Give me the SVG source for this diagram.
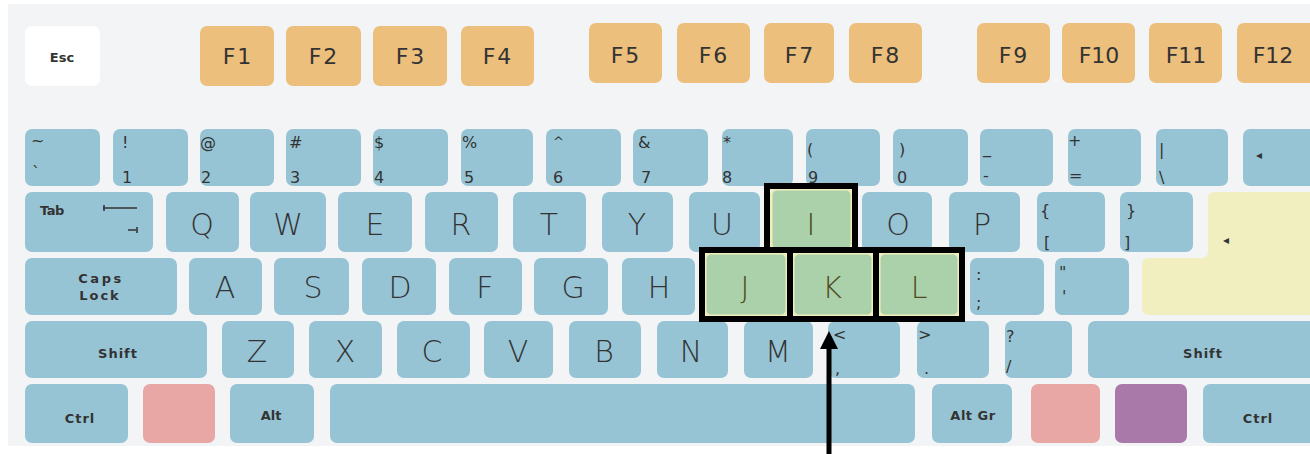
<svg xmlns="http://www.w3.org/2000/svg" width="1310" height="454" viewBox="0 0 1310 454">
<style>
.k{fill:#97c4d5}
.f{fill:#ecbf7c}
.g{fill:#abd1aa;stroke:#f0eebc;stroke-width:3}
.fr{fill:none;stroke:#000;stroke-width:6}
.t{font-family:"DejaVu Sans",sans-serif;fill:#333}
.L{font-size:30px;font-weight:200;text-anchor:middle}
.Lg{font-size:30px;font-weight:200;text-anchor:middle;fill:#4f4c22}
.F{font-size:22px;text-anchor:middle;letter-spacing:2px}
.s{font-size:16px}
.b{font-size:13px;font-weight:bold;text-anchor:middle;letter-spacing:1px}
</style>
<rect x="8" y="4" width="1302" height="442" fill="#f3f4f6"/>

<g id="frow">
<g id="k-esc"><rect x="25" y="26" width="75" height="60" rx="7" fill="#fff"/><text class="t b" x="62" y="62" style="letter-spacing:0">Esc</text></g>
<g id="k-f1"><rect class="f" x="200" y="26" width="74" height="60" rx="7"/><text class="t F" x="238" y="64">F1</text></g>
<g id="k-f2"><rect class="f" x="286" y="26" width="75" height="60" rx="7"/><text class="t F" x="324" y="64">F2</text></g>
<g id="k-f3"><rect class="f" x="373" y="26" width="74" height="60" rx="7"/><text class="t F" x="411" y="64">F3</text></g>
<g id="k-f4"><rect class="f" x="461" y="26" width="73" height="60" rx="7"/><text class="t F" x="498" y="64">F4</text></g>
<g id="k-f5"><rect class="f" x="589" y="23" width="73" height="60" rx="7"/><text class="t F" x="626" y="63">F5</text></g>
<g id="k-f6"><rect class="f" x="677" y="23" width="73" height="60" rx="7"/><text class="t F" x="714" y="63">F6</text></g>
<g id="k-f7"><rect class="f" x="764" y="23" width="70" height="60" rx="7"/><text class="t F" x="800" y="63">F7</text></g>
<g id="k-f8"><rect class="f" x="849" y="23" width="73" height="60" rx="7"/><text class="t F" x="886" y="63">F8</text></g>
<g id="k-f9"><rect class="f" x="977" y="23" width="73" height="60" rx="7"/><text class="t F" x="1014" y="63">F9</text></g>
<g id="k-f10"><rect class="f" x="1062" y="23" width="73" height="60" rx="7"/><text class="t F" x="1099" y="63" style="letter-spacing:0">F10</text></g>
<g id="k-f11"><rect class="f" x="1149" y="23" width="73" height="60" rx="7"/><text class="t F" x="1186" y="63" style="letter-spacing:0">F11</text></g>
<g id="k-f12"><rect class="f" x="1237" y="23" width="80" height="60" rx="7"/><text class="t F" x="1273" y="63" style="letter-spacing:0">F12</text></g>
</g>

<g id="numrow">
<g id="k-tilde"><rect class="k" x="25" y="129" width="75" height="57" rx="7"/><text class="t s" x="31" y="146">~</text><text class="t s" x="32" y="178">`</text></g>
<g id="k-1"><rect class="k" x="113" y="129" width="75" height="57" rx="7"/><text class="t s" x="122" y="148">!</text><text class="t s" x="122" y="183">1</text></g>
<g id="k-2"><rect class="k" x="200" y="129" width="74" height="57" rx="7"/><text class="t s" x="200" y="148">@</text><text class="t s" x="201" y="183">2</text></g>
<g id="k-3"><rect class="k" x="286" y="129" width="75" height="57" rx="7"/><text class="t s" x="289" y="148">#</text><text class="t s" x="290" y="183">3</text></g>
<g id="k-4"><rect class="k" x="373" y="129" width="75" height="57" rx="7"/><text class="t s" x="374" y="148">$</text><text class="t s" x="374" y="183">4</text></g>
<g id="k-5"><rect class="k" x="461" y="129" width="72" height="57" rx="7"/><text class="t s" x="462" y="148">%</text><text class="t s" x="464" y="183">5</text></g>
<g id="k-6"><rect class="k" x="546" y="129" width="75" height="57" rx="7"/><text class="t s" x="553" y="146" style="font-size:13px">^</text><text class="t s" x="553" y="183">6</text></g>
<g id="k-7"><rect class="k" x="633" y="129" width="75" height="57" rx="7"/><text class="t s" x="638" y="148">&amp;</text><text class="t s" x="641" y="183">7</text></g>
<g id="k-8"><rect class="k" x="722" y="129" width="71" height="57" rx="7"/><text class="t s" x="723" y="148">*</text><text class="t s" x="722" y="183">8</text></g>
<g id="k-9"><rect class="k" x="806" y="129" width="74" height="57" rx="7"/><text class="t s" x="807" y="155">(</text><text class="t s" x="808" y="183">9</text></g>
<g id="k-0"><rect class="k" x="893" y="129" width="75" height="57" rx="7"/><text class="t s" x="899" y="155">)</text><text class="t s" x="897" y="183">0</text></g>
<g id="k-minus"><rect class="k" x="980" y="129" width="73" height="57" rx="7"/><text class="t s" x="983" y="153">_</text><text class="t s" x="983" y="181">-</text></g>
<g id="k-equal"><rect class="k" x="1068" y="129" width="73" height="57" rx="7"/><text class="t s" x="1068" y="146">+</text><text class="t s" x="1069" y="181">=</text></g>
<g id="k-backslash"><rect class="k" x="1156" y="129" width="72" height="57" rx="7"/><text class="t s" x="1159" y="155">|</text><text class="t s" x="1159" y="183">\</text></g>
<g id="k-back"><rect class="k" x="1243" y="129" width="75" height="57" rx="7"/><text class="t" x="1256" y="159" style="font-size:12px">◂</text></g>
</g>

<g id="qrow">
<g id="k-tab"><rect class="k" x="25" y="192" width="128" height="60" rx="7"/><text class="t b" x="52" y="215" style="letter-spacing:-0.5px">Tab</text>
<path d="M103 208H137M104 205V211M128 230H136M137 227V233" stroke="#333" stroke-width="1.6" fill="none"/></g>
<g id="k-q"><rect class="k" x="166" y="192" width="73" height="60" rx="7"/><text class="t L" x="202" y="235">Q</text></g>
<g id="k-w"><rect class="k" x="250" y="192" width="76" height="60" rx="7"/><text class="t L" x="288" y="235">W</text></g>
<g id="k-e"><rect class="k" x="338" y="192" width="74" height="60" rx="7"/><text class="t L" x="375" y="235">E</text></g>
<g id="k-r"><rect class="k" x="425" y="192" width="73" height="60" rx="7"/><text class="t L" x="461" y="235">R</text></g>
<g id="k-t"><rect class="k" x="513" y="192" width="73" height="60" rx="7"/><text class="t L" x="549" y="235">T</text></g>
<g id="k-y"><rect class="k" x="602" y="192" width="71" height="60" rx="7"/><text class="t L" x="637" y="235">Y</text></g>
<g id="k-u"><rect class="k" x="689" y="192" width="71" height="60" rx="7"/><text class="t L" x="722" y="235">U</text></g>
<g id="k-i"><rect class="g" x="771" y="189" width="81" height="61" rx="6"/><text class="t Lg" x="811" y="235">I</text></g>
<g id="k-o"><rect class="k" x="862" y="192" width="70" height="60" rx="7"/><text class="t L" x="898" y="235">O</text></g>
<g id="k-p"><rect class="k" x="949" y="192" width="71" height="60" rx="7"/><text class="t L" x="982" y="235">P</text></g>
<g id="k-lbrack"><rect class="k" x="1037" y="192" width="68" height="60" rx="7"/><text class="t s" x="1040" y="216">{</text><text class="t s" x="1044" y="248">[</text></g>
<g id="k-rbrack"><rect class="k" x="1120" y="192" width="73" height="60" rx="7"/><text class="t s" x="1126" y="216">}</text><text class="t s" x="1124" y="248">]</text></g>
<g id="k-enter"><path d="M1215 192H1318V315H1149Q1142 315 1142 308V265Q1142 258 1149 258H1201Q1208 258 1208 251V199Q1208 192 1215 192Z" fill="#f1efbf"/><text class="t" x="1223" y="244" style="font-size:12px">◂</text></g>
</g>

<g id="arow">
<g id="k-caps"><rect class="k" x="25" y="258" width="152" height="57" rx="7"/><text class="t b" x="101" y="283" style="letter-spacing:2.5px">Caps</text><text class="t b" x="100" y="300" style="letter-spacing:2px">Lock</text></g>
<g id="k-a"><rect class="k" x="189" y="258" width="73" height="57" rx="7"/><text class="t L" x="225" y="298">A</text></g>
<g id="k-s"><rect class="k" x="274" y="258" width="75" height="57" rx="7"/><text class="t L" x="313" y="298">S</text></g>
<g id="k-d"><rect class="k" x="362" y="258" width="74" height="57" rx="7"/><text class="t L" x="400" y="298">D</text></g>
<g id="k-f"><rect class="k" x="449" y="258" width="73" height="57" rx="7"/><text class="t L" x="485" y="298">F</text></g>
<g id="k-g"><rect class="k" x="534" y="258" width="74" height="57" rx="7"/><text class="t L" x="573" y="298">G</text></g>
<g id="k-h"><rect class="k" x="622" y="258" width="73" height="57" rx="7"/><text class="t L" x="659" y="298">H</text></g>
<g id="k-j"><rect class="g" x="705" y="253" width="82" height="63" rx="6"/><text class="t Lg" x="745" y="298">J</text></g>
<g id="k-k"><rect class="g" x="793" y="253" width="80" height="63" rx="6"/><text class="t Lg" x="832" y="298">K</text></g>
<g id="k-l"><rect class="g" x="879" y="253" width="80" height="63" rx="6"/><text class="t Lg" x="919" y="298">L</text></g>
<g id="k-semi"><rect class="k" x="970" y="258" width="74" height="57" rx="7"/><text class="t s" x="976" y="280">:</text><text class="t s" x="976" y="308">;</text></g>
<g id="k-quote"><rect class="k" x="1055" y="258" width="74" height="57" rx="7"/><text class="t s" x="1059" y="278">"</text><text class="t s" x="1062" y="302">'</text></g>
</g>

<g id="zrow">
<g id="k-lshift"><rect class="k" x="25" y="321" width="182" height="57" rx="7"/><text class="t b" x="118" y="358">Shift</text></g>
<g id="k-z"><rect class="k" x="222" y="321" width="72" height="57" rx="7"/><text class="t L" x="257" y="362">Z</text></g>
<g id="k-x"><rect class="k" x="309" y="321" width="73" height="57" rx="7"/><text class="t L" x="345" y="362">X</text></g>
<g id="k-c"><rect class="k" x="397" y="321" width="73" height="57" rx="7"/><text class="t L" x="432" y="362">C</text></g>
<g id="k-v"><rect class="k" x="484" y="321" width="69" height="57" rx="7"/><text class="t L" x="518" y="362">V</text></g>
<g id="k-b"><rect class="k" x="569" y="321" width="72" height="57" rx="7"/><text class="t L" x="604" y="362">B</text></g>
<g id="k-n"><rect class="k" x="657" y="321" width="71" height="57" rx="7"/><text class="t L" x="691" y="362">N</text></g>
<g id="k-m"><rect class="k" x="744" y="321" width="69" height="57" rx="7"/><text class="t L" x="778" y="362">M</text></g>
<g id="k-comma"><rect class="k" x="828" y="321" width="72" height="57" rx="7"/><text class="t s" x="833" y="340">&lt;</text><text class="t s" x="835" y="374">,</text></g>
<g id="k-period"><rect class="k" x="917" y="321" width="72" height="57" rx="7"/><text class="t s" x="918" y="340">&gt;</text><text class="t s" x="924" y="374">.</text></g>
<g id="k-slash"><rect class="k" x="1005" y="321" width="67" height="57" rx="7"/><text class="t s" x="1006" y="342">?</text><text class="t s" x="1006" y="372">/</text></g>
<g id="k-rshift"><rect class="k" x="1088" y="321" width="230" height="57" rx="7"/><text class="t b" x="1203" y="358">Shift</text></g>
</g>

<g id="bottomrow">
<g id="k-lctrl"><rect class="k" x="25" y="384" width="103" height="59" rx="7"/><text class="t b" x="80" y="423">Ctrl</text></g>
<g id="k-lwin"><rect x="143" y="384" width="72" height="59" rx="7" fill="#e8a7a5"/></g>
<g id="k-alt"><rect class="k" x="230" y="384" width="84" height="59" rx="7"/><text class="t b" x="271" y="420" style="letter-spacing:0">Alt</text></g>
<g id="k-space"><rect class="k" x="330" y="384" width="585" height="59" rx="7"/></g>
<g id="k-altgr"><rect class="k" x="932" y="384" width="80" height="59" rx="7"/><text class="t b" x="973" y="420" style="letter-spacing:0.5px">Alt Gr</text></g>
<g id="k-rwin"><rect x="1031" y="384" width="69" height="59" rx="7" fill="#e8a7a5"/></g>
<g id="k-menu"><rect x="1115" y="384" width="72" height="59" rx="7" fill="#a97aa9"/></g>
<g id="k-rctrl"><rect class="k" x="1203" y="384" width="115" height="59" rx="7"/><text class="t b" x="1258" y="423">Ctrl</text></g>
</g>

<g id="highlight">
<rect class="fr" x="767" y="186" width="88" height="64"/>
<rect class="fr" x="702" y="250" width="88" height="69"/>
<rect class="fr" x="790" y="250" width="86" height="69"/>
<rect class="fr" x="876" y="250" width="86" height="69"/>
</g>

<g id="connectors">
<line x1="829" y1="454" x2="829" y2="346" stroke="#000" stroke-width="5"/>
<polygon points="829,331 820,349 838,349" fill="#000"/>
</g>
</svg>
